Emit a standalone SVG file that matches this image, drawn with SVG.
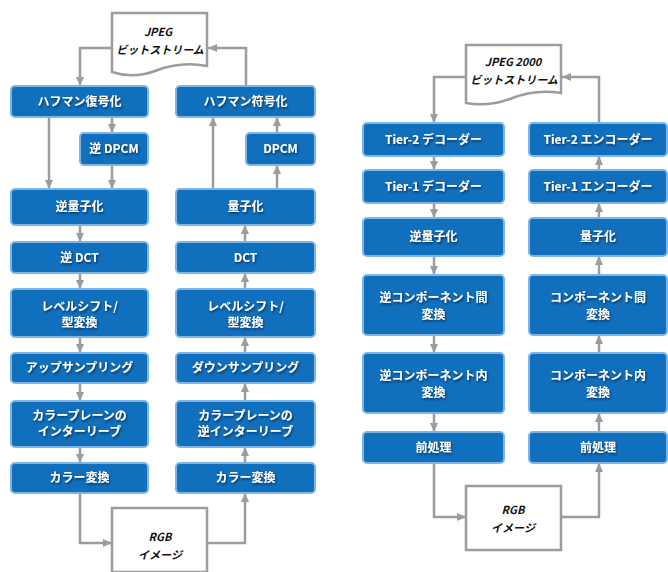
<svg xmlns="http://www.w3.org/2000/svg" width="668" height="572" viewBox="0 0 668 572">
<defs>
<marker id="ah" markerUnits="userSpaceOnUse" markerWidth="10" markerHeight="9" refX="9" refY="4.5" orient="auto">
<path d="M0,0.5 L9,4.5 L0,8.5 Z" fill="#9c9c9c"/>
</marker>
<filter id="sh" x="-10%" y="-30%" width="120%" height="160%">
<feDropShadow dx="1" dy="1.5" stdDeviation="1.2" flood-color="#002040" flood-opacity="0.8"/>
</filter>
</defs>
<style>
.b{fill:#1170bd;stroke:#7db6e6;stroke-width:2}
.t{font-family:"Noto Sans CJK JP","Noto Sans",sans-serif;font-weight:bold;font-size:12px;fill:#ffffff;text-anchor:middle;filter:url(#sh)}
.d{fill:#ffffff;stroke:#9c9c9c;stroke-width:2.5}
.dt{font-family:"Noto Sans CJK JP","Noto Sans",sans-serif;font-weight:bold;font-style:italic;font-size:11px;fill:#111111;text-anchor:middle}
.c{fill:none;stroke:#9c9c9c;stroke-width:2.5;marker-end:url(#ah)}
</style>
<rect width="668" height="572" fill="#ffffff"/>

<g id="connectors">
<path class="c" d="M112,48 H80 V86"/>
<path class="c" d="M246,86 V48 H208"/>
<path class="c" d="M49,117 V189"/>
<path class="c" d="M112,117 V133"/>
<path class="c" d="M112,165 V189"/>
<path class="c" d="M213,189 V117"/>
<path class="c" d="M277,189 V165"/>
<path class="c" d="M277,133 V117"/>
<path class="c" d="M80,225 V242"/>
<path class="c" d="M80,273 V289"/>
<path class="c" d="M80,337 V353"/>
<path class="c" d="M80,383 V401"/>
<path class="c" d="M80,447 V463"/>
<path class="c" d="M245,242 V225"/>
<path class="c" d="M245,289 V273"/>
<path class="c" d="M245,353 V337"/>
<path class="c" d="M245,401 V383"/>
<path class="c" d="M245,463 V447"/>
<path class="c" d="M80,493 V543 H112"/>
<path class="c" d="M207,543 H245 V493"/>
<path class="c" d="M466,77 H434 V123"/>
<path class="c" d="M599,123 V77 H562"/>
<path class="c" d="M434,156 V170"/>
<path class="c" d="M434,203 V218"/>
<path class="c" d="M434,256 V275"/>
<path class="c" d="M434,335 V353"/>
<path class="c" d="M434,413 V432"/>
<path class="c" d="M599,170 V156"/>
<path class="c" d="M599,218 V203"/>
<path class="c" d="M599,275 V256"/>
<path class="c" d="M599,353 V335"/>
<path class="c" d="M599,432 V413"/>
<path class="c" d="M434,463 V517 H466"/>
<path class="c" d="M561,517 H599 V463"/>
</g>

<g id="jpeg-bitstream">
<path class="d" d="M112,13 H207 V66 Q180,61 155,71 Q133,79 112,72 Z"/>
<text class="dt" x="158" y="36">JPEG</text>
<text class="dt" x="160" y="54">ビットストリーム</text>
</g>
<g id="huffman-dec"><rect class="b" x="11" y="86" width="137" height="31" rx="4"/><text class="t" x="79.5" y="106">ハフマン復号化</text></g>
<g id="inv-dpcm"><rect class="b" x="80" y="133" width="68" height="32" rx="4"/><text class="t" x="114" y="153">逆 DPCM</text></g>
<g id="inv-quant"><rect class="b" x="11" y="189" width="137" height="36" rx="4"/><text class="t" x="79.5" y="211">逆量子化</text></g>
<g id="inv-dct"><rect class="b" x="11" y="242" width="137" height="31" rx="4"/><text class="t" x="79.5" y="262">逆 DCT</text></g>
<g id="level-shift-l"><rect class="b" x="11" y="289" width="137" height="48" rx="4"/><text class="t" x="79.5" y="311">レベルシフト/</text><text class="t" x="79.5" y="327">型変換</text></g>
<g id="upsampling"><rect class="b" x="11" y="353" width="137" height="30" rx="4"/><text class="t" x="79.5" y="372">アップサンプリング</text></g>
<g id="interleave"><rect class="b" x="11" y="401" width="137" height="46" rx="4"/><text class="t" x="79.5" y="420">カラープレーンの</text><text class="t" x="79.5" y="436">インターリーブ</text></g>
<g id="color-conv-l"><rect class="b" x="11" y="463" width="137" height="30" rx="4"/><text class="t" x="79.5" y="482">カラー変換</text></g>

<g id="huffman-enc"><rect class="b" x="176" y="86" width="139" height="31" rx="4"/><text class="t" x="245.5" y="106">ハフマン符号化</text></g>
<g id="dpcm"><rect class="b" x="246" y="133" width="69" height="32" rx="4"/><text class="t" x="280.5" y="153">DPCM</text></g>
<g id="quant"><rect class="b" x="176" y="189" width="139" height="36" rx="4"/><text class="t" x="245.5" y="211">量子化</text></g>
<g id="dct"><rect class="b" x="176" y="242" width="139" height="31" rx="4"/><text class="t" x="245.5" y="262">DCT</text></g>
<g id="level-shift-r"><rect class="b" x="176" y="289" width="139" height="48" rx="4"/><text class="t" x="245.5" y="311">レベルシフト/</text><text class="t" x="245.5" y="327">型変換</text></g>
<g id="downsampling"><rect class="b" x="176" y="353" width="139" height="30" rx="4"/><text class="t" x="245.5" y="372">ダウンサンプリング</text></g>
<g id="deinterleave"><rect class="b" x="176" y="401" width="139" height="46" rx="4"/><text class="t" x="245.5" y="420">カラープレーンの</text><text class="t" x="245.5" y="436">逆インターリーブ</text></g>
<g id="color-conv-r"><rect class="b" x="176" y="463" width="139" height="30" rx="4"/><text class="t" x="245.5" y="482">カラー変換</text></g>

<g id="rgb-left">
<rect class="d" x="112" y="508" width="95" height="64"/>
<text class="dt" x="160" y="541">RGB</text>
<text class="dt" x="160" y="559">イメージ</text>
</g>

<g id="jp2-bitstream">
<path class="d" d="M466,45 H561 V93 Q535,89 510,99 Q488,107 466,103 Z"/>
<text class="dt" x="513" y="66">JPEG 2000</text>
<text class="dt" x="514" y="84">ビットストリーム</text>
</g>
<g id="tier2-dec"><rect class="b" x="363" y="123" width="141" height="33" rx="4"/><text class="t" x="433.5" y="144">Tier-2 デコーダー</text></g>
<g id="tier1-dec"><rect class="b" x="363" y="170" width="141" height="33" rx="4"/><text class="t" x="433.5" y="191">Tier-1 デコーダー</text></g>
<g id="j2-inv-quant"><rect class="b" x="363" y="218" width="141" height="38" rx="4"/><text class="t" x="433.5" y="241">逆量子化</text></g>
<g id="inv-inter-comp"><rect class="b" x="363" y="275" width="141" height="60" rx="4"/><text class="t" x="433.5" y="302">逆コンポーネント間</text><text class="t" x="433.5" y="319">変換</text></g>
<g id="inv-intra-comp"><rect class="b" x="363" y="353" width="141" height="60" rx="4"/><text class="t" x="433.5" y="380">逆コンポーネント内</text><text class="t" x="433.5" y="397">変換</text></g>
<g id="preproc-l"><rect class="b" x="363" y="432" width="141" height="31" rx="4"/><text class="t" x="433.5" y="452">前処理</text></g>

<g id="tier2-enc"><rect class="b" x="529" y="123" width="138" height="33" rx="4"/><text class="t" x="598" y="144">Tier-2 エンコーダー</text></g>
<g id="tier1-enc"><rect class="b" x="529" y="170" width="138" height="33" rx="4"/><text class="t" x="598" y="191">Tier-1 エンコーダー</text></g>
<g id="j2-quant"><rect class="b" x="529" y="218" width="138" height="38" rx="4"/><text class="t" x="598" y="241">量子化</text></g>
<g id="inter-comp"><rect class="b" x="529" y="275" width="138" height="60" rx="4"/><text class="t" x="598" y="302">コンポーネント間</text><text class="t" x="598" y="319">変換</text></g>
<g id="intra-comp"><rect class="b" x="529" y="353" width="138" height="60" rx="4"/><text class="t" x="598" y="380">コンポーネント内</text><text class="t" x="598" y="397">変換</text></g>
<g id="preproc-r"><rect class="b" x="529" y="432" width="138" height="31" rx="4"/><text class="t" x="598" y="452">前処理</text></g>

<g id="rgb-right">
<rect class="d" x="466" y="486" width="95" height="64"/>
<text class="dt" x="513" y="514">RGB</text>
<text class="dt" x="513" y="532">イメージ</text>
</g>
</svg>
